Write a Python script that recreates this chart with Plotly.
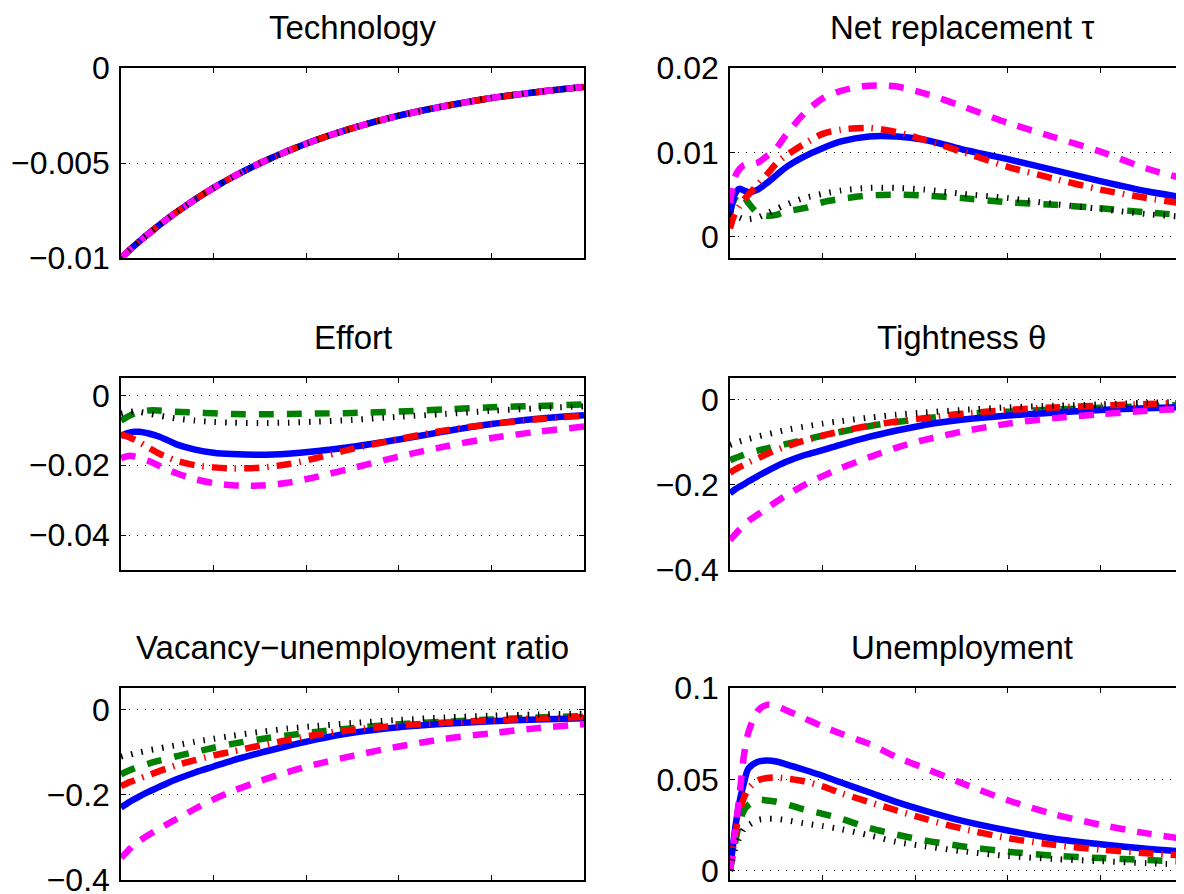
import plotly.graph_objects as go

# ---------------- data ----------------
horizon = [0, 0.5, 1, 1.5, 2, 3, 4, 5, 6, 8, 10, 12, 15, 18, 21, 25, 30, 35, 40, 45, 50]
x_ticks = [0, 10, 20, 30, 40, 50]

technology = [-0.0100, -0.00977, -0.00955, -0.00933, -0.00912, -0.00871, -0.00832, -0.00794,
              -0.00759, -0.00692, -0.00631, -0.00575, -0.00501, -0.00437, -0.00380, -0.00316,
              -0.00251, -0.00200, -0.00158, -0.00126, -0.00100]

tau_blue = [0.0026, 0.0050, 0.0057, 0.0055, 0.0053, 0.0056, 0.0064, 0.0073, 0.0082, 0.0095, 0.0105,
            0.0113, 0.0119, 0.0119, 0.0115, 0.0104, 0.0092, 0.0079, 0.0066, 0.0054, 0.0045]
tau_red = [0.0010, 0.0027, 0.0036, 0.0044, 0.0050, 0.0062, 0.0074, 0.0087, 0.0096, 0.0110, 0.0122,
           0.0127, 0.0129, 0.0124, 0.0115, 0.0101, 0.0083, 0.0069, 0.0056, 0.0046, 0.0038]
tau_magenta = [0.0040, 0.0070, 0.0080, 0.0085, 0.0086, 0.0088, 0.0096, 0.0105, 0.0120, 0.0146, 0.0164,
               0.0173, 0.0179, 0.0178, 0.0170, 0.0155, 0.0135, 0.0118, 0.0101, 0.0081, 0.0066]
tau_green = [0.0032, 0.0045, 0.0052, 0.0048, 0.0040, 0.0028, 0.0025, 0.0026, 0.0030, 0.0034, 0.0041,
             0.0045, 0.0049, 0.0050, 0.0049, 0.0046, 0.0041, 0.0038, 0.0034, 0.0029, 0.0025]
tau_black = [0.0027, 0.0025, 0.0023, 0.0021, 0.0021, 0.0023, 0.0028, 0.0033, 0.0038, 0.0046, 0.0051,
             0.0055, 0.0058, 0.0058, 0.0056, 0.0051, 0.0046, 0.0039, 0.0033, 0.0027, 0.0023]

effort_blue = [-0.0117, -0.0110, -0.0106, -0.0104, -0.0104, -0.0109, -0.0117, -0.0128, -0.0140, -0.0155,
               -0.0164, -0.0168, -0.0170, -0.0167, -0.0160, -0.0147, -0.0126, -0.0103, -0.0082, -0.0067, -0.0057]
effort_red = [-0.0112, -0.0116, -0.0121, -0.0127, -0.0134, -0.0150, -0.0165, -0.0177, -0.0187, -0.0200,
              -0.0206, -0.0209, -0.0207, -0.0197, -0.0180, -0.0153, -0.0125, -0.0100, -0.0082, -0.0068, -0.0058]
effort_magenta = [-0.0180, -0.0175, -0.0173, -0.0175, -0.0179, -0.0188, -0.0200, -0.0212, -0.0223, -0.0240,
                  -0.0251, -0.0257, -0.0258, -0.0250, -0.0234, -0.0208, -0.0175, -0.0146, -0.0122, -0.0104, -0.0089]
effort_green = [-0.0072, -0.0064, -0.0057, -0.0051, -0.0047, -0.0043, -0.0043, -0.0045, -0.0047, -0.0049,
                -0.0051, -0.0053, -0.0054, -0.0053, -0.0052, -0.0050, -0.0046, -0.0040, -0.0034, -0.0030, -0.0026]
effort_black = [-0.0052, -0.0049, -0.0047, -0.0046, -0.0047, -0.0052, -0.0057, -0.0062, -0.0066, -0.0072,
                -0.0076, -0.0078, -0.0079, -0.0078, -0.0075, -0.0070, -0.0061, -0.0053, -0.0044, -0.0037, -0.0031]

theta_blue = [-0.220, -0.212, -0.205, -0.199, -0.192, -0.180, -0.168, -0.157, -0.147, -0.131, -0.119,
              -0.106, -0.088, -0.073, -0.060, -0.048, -0.038, -0.031, -0.025, -0.021, -0.017]
theta_red = [-0.172, -0.165, -0.159, -0.154, -0.148, -0.138, -0.128, -0.119, -0.111, -0.097, -0.085,
             -0.075, -0.062, -0.052, -0.044, -0.034, -0.025, -0.019, -0.015, -0.011, -0.008]
theta_magenta = [-0.330, -0.318, -0.306, -0.296, -0.285, -0.270, -0.255, -0.240, -0.226, -0.201, -0.180,
                 -0.161, -0.136, -0.113, -0.095, -0.076, -0.057, -0.044, -0.035, -0.027, -0.021]
theta_green = [-0.143, -0.138, -0.134, -0.130, -0.126, -0.120, -0.115, -0.110, -0.105, -0.095, -0.085,
               -0.076, -0.063, -0.053, -0.045, -0.035, -0.029, -0.024, -0.020, -0.016, -0.012]
theta_black = [-0.107, -0.103, -0.099, -0.096, -0.093, -0.087, -0.082, -0.077, -0.072, -0.064, -0.057,
               -0.051, -0.043, -0.036, -0.031, -0.025, -0.019, -0.015, -0.012, -0.008, -0.006]

vu_blue = [-0.230, -0.223, -0.216, -0.210, -0.204, -0.193, -0.183, -0.173, -0.164, -0.148, -0.134,
           -0.120, -0.102, -0.086, -0.071, -0.055, -0.042, -0.034, -0.028, -0.024, -0.021]
vu_red = [-0.180, -0.175, -0.170, -0.166, -0.162, -0.154, -0.146, -0.138, -0.131, -0.119, -0.108,
          -0.099, -0.085, -0.072, -0.060, -0.048, -0.038, -0.031, -0.026, -0.021, -0.018]
vu_magenta = [-0.348, -0.337, -0.326, -0.316, -0.308, -0.294, -0.281, -0.269, -0.257, -0.233, -0.211,
              -0.192, -0.168, -0.147, -0.129, -0.109, -0.087, -0.069, -0.056, -0.044, -0.035]
vu_green = [-0.152, -0.147, -0.142, -0.138, -0.134, -0.127, -0.121, -0.116, -0.110, -0.100, -0.090,
            -0.081, -0.070, -0.061, -0.053, -0.044, -0.035, -0.029, -0.024, -0.019, -0.016]
vu_black = [-0.111, -0.108, -0.106, -0.103, -0.101, -0.096, -0.092, -0.088, -0.084, -0.076, -0.069,
            -0.062, -0.053, -0.045, -0.039, -0.032, -0.025, -0.019, -0.015, -0.012, -0.010]

unemp_blue = [0.0, 0.021, 0.037, 0.048, 0.056, 0.0597, 0.0603, 0.0598, 0.0584, 0.0553, 0.0520,
              0.0483, 0.0430, 0.0376, 0.0330, 0.0275, 0.0221, 0.0176, 0.0146, 0.0121, 0.0102]
unemp_red = [0.0, 0.018, 0.031, 0.040, 0.045, 0.0495, 0.0508, 0.0510, 0.0505, 0.0490, 0.0462,
             0.0425, 0.0377, 0.0330, 0.0285, 0.0232, 0.0179, 0.0142, 0.0116, 0.0096, 0.0081]
unemp_magenta = [0.0, 0.019, 0.040, 0.063, 0.076, 0.0875, 0.0908, 0.0900, 0.0880, 0.0835, 0.0790,
                 0.0750, 0.0695, 0.0622, 0.0562, 0.0480, 0.0386, 0.0310, 0.0252, 0.0205, 0.0168]
unemp_green = [0.0, 0.014, 0.026, 0.033, 0.036, 0.0388, 0.0385, 0.0378, 0.0366, 0.0335, 0.0312,
               0.0285, 0.0235, 0.0198, 0.0167, 0.0135, 0.0105, 0.0083, 0.0070, 0.0059, 0.0048]
unemp_black = [0.0, 0.011, 0.018, 0.023, 0.025, 0.0278, 0.0285, 0.0284, 0.0278, 0.0260, 0.0245,
               0.0228, 0.0195, 0.0158, 0.0135, 0.0108, 0.0081, 0.0065, 0.0053, 0.0042, 0.0033]

titles = ["Technology", "Net replacement τ", "Effort", "Tightness θ",
          "Vacancy\u2212unemployment ratio", "Unemployment"]

tech_ticks = [-0.01, -0.005, 0]
tech_labels = ["\u22120.01", "\u22120.005", "0"]
tau_ticks = [0, 0.01, 0.02]
tau_labels = ["0", "0.01", "0.02"]
effort_ticks = [-0.04, -0.02, 0]
effort_labels = ["\u22120.04", "\u22120.02", "0"]
theta_ticks = [-0.4, -0.2, 0]
theta_labels = ["\u22120.4", "\u22120.2", "0"]
vu_ticks = [-0.4, -0.2, 0]
vu_labels = ["\u22120.4", "\u22120.2", "0"]
unemp_ticks = [0, 0.05, 0.1]
unemp_labels = ["0", "0.05", "0.1"]

# ---------------- figure ----------------
OFF = 8                      # page body margin of the html page
W, H = 1184 - OFF, 894 - OFF
FONT = "Liberation Sans, Arial, Helvetica, sans-serif"
FS = 32

# screen-pixel boxes of the six panels: (left, right, top, bottom)
boxes = [(121, 584, 68, 258), (730, 1193, 68, 258),
         (121, 584, 378, 570), (730, 1193, 378, 570),
         (121, 584, 688, 880), (730, 1193, 688, 880)]

panels = [
    dict(series=[technology] * 5, yr=[-0.01, 0.0], tv=tech_ticks, tt=tech_labels),
    dict(series=[tau_green, tau_blue, tau_red, tau_magenta, tau_black], yr=[-0.0025, 0.02], tv=tau_ticks, tt=tau_labels),
    dict(series=[effort_green, effort_blue, effort_red, effort_magenta, effort_black], yr=[-0.05, 0.005], tv=effort_ticks, tt=effort_labels),
    dict(series=[theta_green, theta_blue, theta_red, theta_magenta, theta_black], yr=[-0.4, 0.05], tv=theta_ticks, tt=theta_labels),
    dict(series=[vu_green, vu_blue, vu_red, vu_magenta, vu_black], yr=[-0.4, 0.05], tv=vu_ticks, tt=vu_labels),
    dict(series=[unemp_green, unemp_blue, unemp_red, unemp_magenta, unemp_black], yr=[-0.005, 0.1], tv=unemp_ticks, tt=unemp_labels),
]

styles = [
    dict(color="#008000", width=6.5, dash="15px,13px"),
    dict(color="#0000ff", width=6.5, dash="solid"),
    dict(color="#ff0000", width=6.5, dash="15px,8px,1.5px,8px"),
    dict(color="#ff00ff", width=6.5, dash="15px,12px"),
    dict(color="#000000", width=6, dash="1.5px,9px"),
]

fig = go.Figure()
annotations = []
for i, (p, box) in enumerate(zip(panels, boxes)):
    l, r, t, b = [v - OFF for v in box]
    full_w = r - l
    vis_r = min(r, W)
    xmax = 50 * (vis_r - l) / full_w
    xa = "xaxis" if i == 0 else f"xaxis{i+1}"
    ya = "yaxis" if i == 0 else f"yaxis{i+1}"
    xref = "x" if i == 0 else f"x{i+1}"
    yref = "y" if i == 0 else f"y{i+1}"
    for s, st in zip(p["series"], styles):
        fig.add_trace(go.Scatter(x=horizon, y=s, mode="lines", xaxis=xref, yaxis=yref,
                                 line=dict(color=st["color"], width=st["width"], dash=st["dash"],
                                           shape="spline", smoothing=0.8),
                                 showlegend=False, hoverinfo="skip"))
    cut = vis_r < r
    fig.layout[xa] = dict(domain=[l / W, vis_r / W], range=[0, xmax], tickvals=x_ticks,
                          showticklabels=False, ticks="inside", ticklen=5, tickcolor="black",
                          showline=True, linecolor="black", linewidth=1.5, mirror="ticks",
                          showgrid=False, zeroline=False, anchor=yref, automargin=False)
    fig.layout[ya] = dict(domain=[1 - b / H, 1 - t / H], range=p["yr"], tickvals=p["tv"], ticktext=p["tt"],
                          ticks="inside", ticklen=5, tickcolor="black",
                          showline=True, linecolor="black", linewidth=1.5,
                          mirror=False if cut else "ticks",
                          showgrid=True, gridcolor="black", gridwidth=1, griddash="1px,7px",
                          zeroline=False, anchor=xref, ticklabelstandoff=3, automargin=False,
                          ticklabeloverflow="allow",
                          tickfont=dict(family=FONT, size=FS, color="black"))
    annotations.append(dict(text=titles[i], xref="paper", yref="paper",
                            x=((l + r) / 2) / W, y=1 - (t - 41) / H, xanchor="center", yanchor="middle",
                            showarrow=False, font=dict(family=FONT, size=FS + 1, color="black")))

fig.update_layout(width=W, height=H, margin=dict(l=0, r=0, t=0, b=0, autoexpand=False),
                  paper_bgcolor="white", plot_bgcolor="white", annotations=annotations,
                  font=dict(family=FONT, color="black"))

fig.write_html("out.html")
